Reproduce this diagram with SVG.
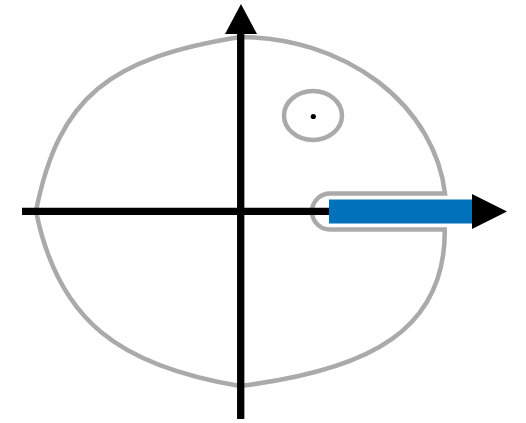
<svg xmlns="http://www.w3.org/2000/svg" width="526" height="423" viewBox="0 0 526 423">
  <style>
    .contour { fill: none; stroke: #aaaaaa; stroke-width: 4.5; stroke-linejoin: miter; }
    .axis { stroke: #000000; stroke-width: 7.3; fill: none; }
    .head { fill: #000000; }
  </style>
  <rect width="526" height="423" fill="#ffffff"/>
  <g id="contour">
    <path class="contour" d="M240,37 A206,174 0 0 1 445,193.5 L330,193.5 A18,18 0 0 0 330,229.5 L444.8,229.5 C445.5,330 370,370 240,386 C120,366 58,321 36,211 C59,96 110,58 240,37 Z"/>
  </g>
  <g id="pole">
    <ellipse class="contour" cx="313" cy="115.5" rx="29" ry="24.5"/>
    <circle cx="313.3" cy="116.5" r="2.6" fill="#000000"/>
  </g>
  <g id="connectors">
    <line class="axis" x1="22" y1="211.3" x2="474" y2="211.3"/>
    <line class="axis" x1="240.7" y1="30" x2="240.7" y2="419"/>
    <polygon class="head" points="241,4 225,34 257,34"/>
  </g>
  <g id="branch-cut">
    <rect x="329" y="199.5" width="146" height="24" fill="#0071ba"/>
  </g>
  <g id="x-arrow">
    <polygon class="head" points="472,194 472,229 507,211.5"/>
  </g>
</svg>
